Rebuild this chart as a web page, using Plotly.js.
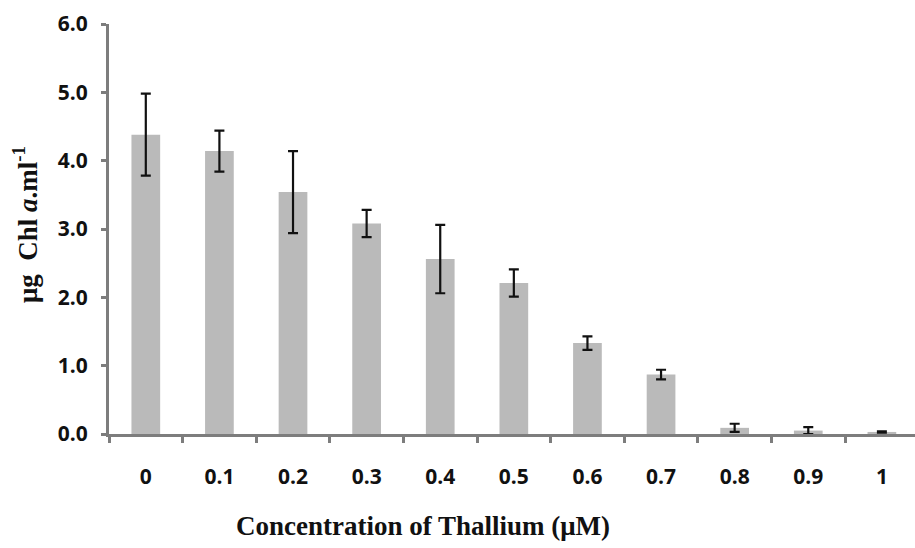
<!DOCTYPE html>
<html>
<head>
<meta charset="utf-8">
<script src="https://cdn.plot.ly/plotly-3.0.1.min.js"></script>
<style>html,body{margin:0;padding:0;background:#fff;}#chart{width:915px;height:548px;}</style>
</head>
<body>
<div id="chart"></div>
<script>
var categories = ["0","0.1","0.2","0.3","0.4","0.5","0.6","0.7","0.8","0.9","1"];
var chlValues = [4.38, 4.14, 3.54, 3.08, 2.56, 2.21, 1.33, 0.87, 0.09, 0.05, 0.03];
var chlErrors = [0.60, 0.30, 0.60, 0.20, 0.50, 0.20, 0.10, 0.07, 0.06, 0.05, 0.01];
var yTickVals = [0, 1, 2, 3, 4, 5, 6];

var trace = {
  type: "bar",
  x: categories,
  y: chlValues,
  width: 0.39,
  marker: {color: "#bababa", line: {width: 0}},
  error_y: {type: "data", array: chlErrors, visible: true, color: "#111111", thickness: 2.2, width: 5},
  hoverinfo: "none"
};

var layout = {
  width: 915, height: 548,
  margin: {l: 109, r: 0, t: 24, b: 114},
  paper_bgcolor: "#ffffff", plot_bgcolor: "#ffffff",
  showlegend: false,
  xaxis: {
    type: "category",
    range: [-0.5, 10.45],
    showline: true, linecolor: "#7d7d7d", linewidth: 3,
    ticks: "outside", tickson: "boundaries", ticklen: 6, tickwidth: 3, tickcolor: "#7d7d7d",
    ticklabelstandoff: 22,
    tickfont: {family: "Open Sans, Liberation Sans, sans-serif", size: 21, color: "#111", weight: "bold"},
    showgrid: false, zeroline: false
  },
  yaxis: {
    range: [0, 6],
    tickvals: yTickVals,
    tickformat: ".1f",
    showline: true, linecolor: "#7d7d7d", linewidth: 3,
    ticks: "outside", ticklen: 5, tickwidth: 3, tickcolor: "#7d7d7d",
    ticklabelstandoff: 9,
    tickfont: {family: "Open Sans, Liberation Sans, sans-serif", size: 21, color: "#111", weight: "bold"},
    showgrid: false, zeroline: false
  },
  annotations: [
    {text: "<b>Concentration of Thallium (μM)</b>", xref: "paper", yref: "paper",
     x: (423 - 109) / 806, y: -0.225, xanchor: "center", yanchor: "middle", showarrow: false,
     font: {family: "Liberation Serif, Times New Roman, serif", size: 27, color: "#111"}},
    {text: "<b>μg&nbsp;&nbsp;Chl <i>a</i>.ml<sup>-1</sup></b>", xref: "paper", yref: "paper",
     x: -0.104, y: 0.51, xanchor: "center", yanchor: "middle", textangle: -90, showarrow: false,
     font: {family: "Liberation Serif, Times New Roman, serif", size: 27, color: "#111"}}
  ]
};

Plotly.newPlot("chart", [trace], layout, {staticPlot: true, displayModeBar: false});
</script>
</body>
</html>
